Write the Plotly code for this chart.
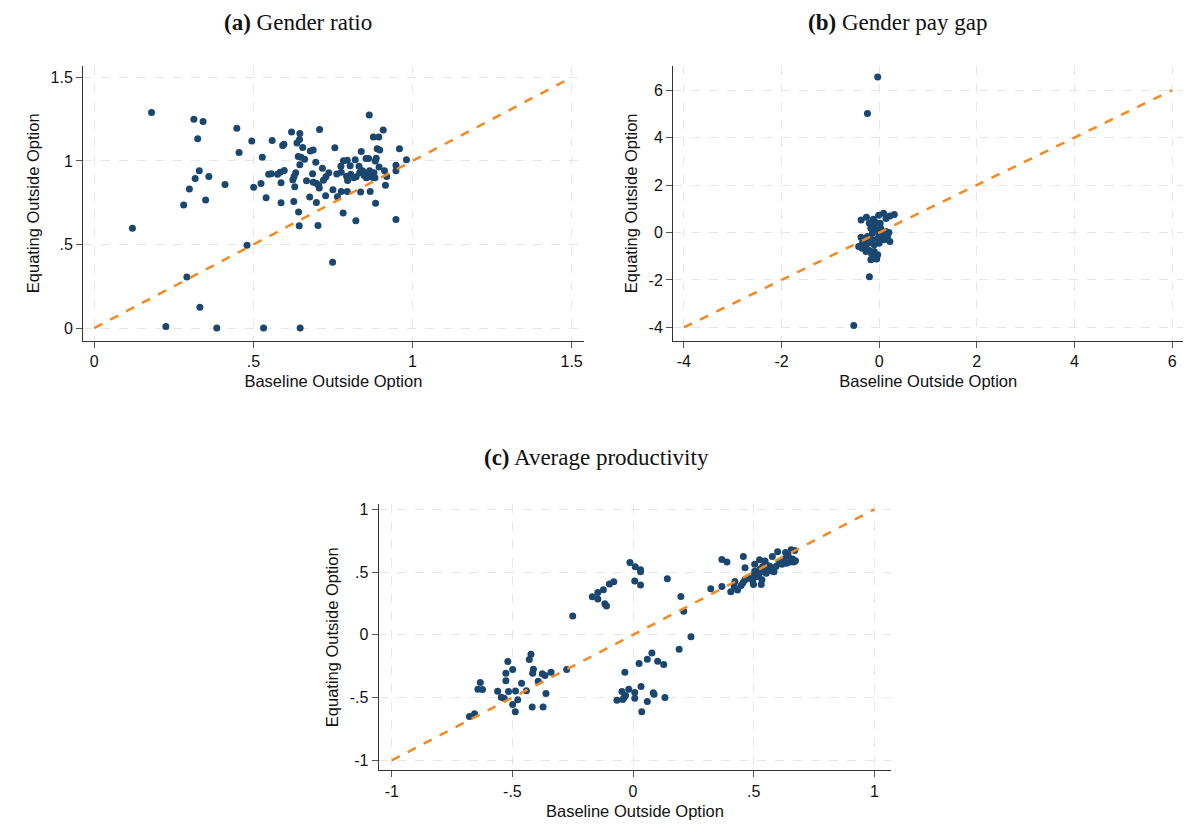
import plotly.graph_objects as go

NAVY = "#1a476f"
ORANGE = "#f5891e"
GRID = "#e6e6e6"

# (a) Gender ratio
ratio_x = [0.18, 0.313, 0.342, 0.325, 0.448, 0.455, 0.495, 0.559, 0.592, 0.596, 0.62, 0.646,
           0.645, 0.637, 0.655, 0.708, 0.679, 0.688, 0.641, 0.65, 0.661, 0.528, 0.756, 0.864,
           0.908, 0.877, 0.894, 0.889, 0.897, 0.959, 0.981, 0.839, 0.886, 0.883, 0.82, 0.795,
           0.783, 0.854, 0.862, 0.696, 0.646, 0.717, 0.775, 0.804, 0.895, 0.948, 0.912, 0.948,
           0.919, 0.915, 0.762, 0.776, 0.737, 0.728, 0.72, 0.686, 0.597, 0.584, 0.576, 0.556,
           0.548, 0.633, 0.628, 0.624, 0.587, 0.63, 0.667, 0.688, 0.698, 0.705, 0.707, 0.793,
           0.796, 0.806, 0.815, 0.823, 0.832, 0.834, 0.843, 0.848, 0.859, 0.865, 0.871, 0.879,
           0.865, 0.855, 0.882, 0.876, 0.501, 0.524, 0.411, 0.36, 0.33, 0.317, 0.299, 0.281,
           0.35, 0.54, 0.587, 0.627, 0.642, 0.644, 0.677, 0.698, 0.703, 0.727, 0.75, 0.764,
           0.776, 0.795, 0.837, 0.867, 0.884, 0.782, 0.822, 0.948, 0.12, 0.48, 0.749, 0.291,
           0.332, 0.225, 0.385, 0.532, 0.647]
ratio_y = [1.29, 1.25, 1.236, 1.133, 1.196, 1.05, 1.12, 1.123, 1.093, 1.10, 1.174, 1.164,
           1.129, 1.107, 1.081, 1.188, 1.059, 1.065, 1.026, 1.022, 1.01, 1.022, 1.079, 1.275,
           1.186, 1.143, 1.143, 1.073, 1.065, 1.073, 1.008, 1.057, 1.016, 1.0, 1.008, 1.004,
           1.002, 1.014, 1.014, 0.992, 0.978, 0.956, 0.968, 0.972, 0.964, 0.974, 0.941, 0.941,
           0.907, 0.855, 0.922, 0.933, 0.929, 0.905, 0.885, 0.923, 0.943, 0.933, 0.921, 0.923,
           0.921, 0.929, 0.907, 0.887, 0.869, 0.846, 0.881, 0.873, 0.867, 0.855, 0.838, 0.909,
           0.883, 0.92, 0.899, 0.905, 0.968, 0.929, 0.941, 0.913, 0.927, 0.941, 0.909, 0.929,
           0.905, 0.899, 0.899, 0.901, 0.842, 0.865, 0.859, 0.907, 0.941, 0.895, 0.832, 0.737,
           0.766, 0.78, 0.75, 0.758, 0.695, 0.612, 0.784, 0.752, 0.614, 0.792, 0.828, 0.786,
           0.818, 0.818, 0.814, 0.818, 0.747, 0.689, 0.642, 0.65, 0.598, 0.495, 0.394, 0.305,
           0.125, 0.01, 0.0, 0.0, 0.0]

# (b) Gender pay gap
gap_x = [-0.03, -0.24, -0.2, -0.52, -0.37, -0.26, -0.12, -0.01, 0.09, 0.14, 0.22, 0.31,
         -0.1, -0.17, -0.07, 0.03, 0.14, 0.20, 0.17, 0.22, -0.37, -0.34, -0.42, -0.27,
         -0.2, -0.1, -0.03, -0.05, -0.17, -0.14, -0.03, 0.07, -0.24, -0.14, 0.0, -0.2,
         -0.07, 0.02, -0.3, -0.2, -0.1, 0.0, 0.1, -0.27, -0.35, -0.15]
gap_y = [6.55, 5.02, -1.86, -3.92, 0.53, 0.64, 0.56, 0.73, 0.81, 0.59, 0.70, 0.76,
         0.32, 0.18, 0.11, 0.18, 0.04, 0.0, -0.17, -0.38, -0.2, -0.42, -0.59, -0.59,
         -0.76, -0.8, -0.94, -1.12, -1.15, -0.31, -0.24, -0.17, -0.17, -0.03, -0.03, 0.39,
         0.42, 0.39, -0.38, -0.42, -0.52, -0.45, -0.31, -0.8, -0.66, -0.94]

# (c) Average productivity
prod_x = [-0.678, -0.657, -0.633, -0.643, -0.624, -0.561, -0.546, -0.534, -0.527, -0.527,
          -0.519, -0.516, -0.499, -0.499, -0.488, -0.487, -0.478, -0.462, -0.442, -0.430,
          -0.423, -0.418, -0.413, -0.416, -0.393, -0.376, -0.365, -0.373, -0.361, -0.340,
          -0.275, -0.250, -0.169, -0.146, -0.146, -0.123, -0.117, -0.110, -0.098, -0.080,
          -0.013, 0.009, 0.031, 0.031, 0.007, 0.031, 0.142, 0.198, 0.210, 0.240, 0.191,
          0.078, 0.059, 0.102, 0.127, 0.025, -0.034, -0.067, -0.046, -0.043, -0.037, -0.031,
          -0.018, 0.007, 0.007, 0.033, 0.036, 0.059, 0.084, 0.087, 0.132,
          0.322, 0.368, 0.368, 0.389, 0.405, 0.422, 0.419, 0.433, 0.448, 0.456, 0.464, 0.473,
          0.457, 0.464, 0.484, 0.493, 0.499, 0.504, 0.504, 0.510, 0.518, 0.524, 0.525, 0.531,
          0.534, 0.537, 0.547, 0.555, 0.561, 0.570, 0.577, 0.581, 0.592, 0.599, 0.605, 0.614,
          0.626, 0.632, 0.643, 0.655, 0.661, 0.666, 0.670, 0.673, 0.651, 0.636, 0.617, 0.584,
          0.567, 0.552, 0.534, 0.521, 0.496]
prod_y = [-0.650, -0.629, -0.380, -0.433, -0.435, -0.449, -0.497, -0.505, -0.367, -0.306,
          -0.213, -0.452, -0.277, -0.555, -0.613, -0.447, -0.518, -0.385, -0.446, -0.197,
          -0.155, -0.576, -0.274, -0.306, -0.370, -0.311, -0.325, -0.576, -0.468, -0.298,
          -0.277, 0.150, 0.303, 0.338, 0.285, 0.359, 0.248, 0.229, 0.404, 0.423,
          0.576, 0.542, 0.518, 0.502, 0.428, 0.396, 0.446, 0.306, 0.187, -0.015, -0.115,
          -0.144, -0.195, -0.211, -0.237, -0.229, -0.298, -0.521, -0.452, -0.515, -0.499, -0.483,
          -0.433, -0.460, -0.505, -0.412, -0.613, -0.531, -0.462, -0.473, -0.499,
          0.367, 0.600, 0.385, 0.581, 0.343, 0.425, 0.385, 0.356, 0.393, 0.417, 0.438, 0.449,
          0.624, 0.534, 0.460, 0.465, 0.401, 0.507, 0.563, 0.465, 0.491, 0.597, 0.523, 0.401,
          0.438, 0.544, 0.587, 0.523, 0.550, 0.510, 0.624, 0.523, 0.544, 0.661, 0.576, 0.581,
          0.603, 0.656, 0.629, 0.677, 0.603, 0.581, 0.672, 0.589, 0.581, 0.571, 0.563, 0.502,
          0.544, 0.491, 0.502, 0.465, 0.430]

diag_a = [0, 1.5]
diag_b = [-4, 6]
diag_c = [-1, 1]

ticks_a = [0, 0.5, 1, 1.5]
labels_a = ["0", ".5", "1", "1.5"]
ticks_b = [-4, -2, 0, 2, 4, 6]
labels_b = ["-4", "-2", "0", "2", "4", "6"]
ticks_c = [-1, -0.5, 0, 0.5, 1]
labels_c = ["-1", "-.5", "0", ".5", "1"]

fig = go.Figure()

panels = [
    ("", ratio_x, ratio_y, diag_a),
    ("2", gap_x, gap_y, diag_b),
    ("3", prod_x, prod_y, diag_c),
]
for suffix, xs, ys, diag in panels:
    fig.add_trace(go.Scatter(x=xs, y=ys, mode="markers", xaxis="x" + suffix, yaxis="y" + suffix,
                             marker=dict(color=NAVY, size=7), showlegend=False))
    fig.add_trace(go.Scatter(x=diag, y=diag, mode="lines", xaxis="x" + suffix, yaxis="y" + suffix,
                             line=dict(color=ORANGE, width=2.5, dash="dash"), showlegend=False))


def axis(domain, rng, tv, tt, title, anchor):
    return dict(domain=domain, range=rng, tickvals=tv, ticktext=tt, anchor=anchor,
                showgrid=True, gridcolor=GRID, griddash="dash", gridwidth=1,
                zeroline=False, showline=True, linecolor="#333333", linewidth=1.2,
                ticks="outside", ticklen=6, tickcolor="#555555",
                tickfont=dict(family="Liberation Sans, Arial", size=16, color="#111"),
                title=dict(text=title, font=dict(family="Liberation Sans, Arial", size=16.5, color="#111"),
                           standoff=6))


DX = -0.006
DY = 0.012
fig.update_layout(
    width=1192, height=832, margin=dict(l=0, r=0, t=0, b=0),
    plot_bgcolor="white", paper_bgcolor="white",
    xaxis=axis([0.069 + DX, 0.489 + DX], [-0.035, 1.538], ticks_a, labels_a, "Baseline Outside Option", "y"),
    yaxis=axis([0.590 + DY, 0.922 + DY], [-0.077, 1.57], ticks_a, labels_a, "Equating Outside Option", "x"),
    xaxis2=axis([0.564 + DX, 0.992 + DX], [-4.22, 6.23], ticks_b, labels_b, "Baseline Outside Option", "y2"),
    yaxis2=axis([0.590 + DY, 0.922 + DY], [-4.57, 7.03], ticks_b, labels_b, "Equating Outside Option", "x2"),
    xaxis3=axis([0.317 + DX, 0.747 + DX], [-1.054, 1.07], ticks_c, labels_c, "Baseline Outside Option", "y3"),
    yaxis3=axis([0.072 + DY, 0.393 + DY], [-1.08, 1.04], ticks_c, labels_c, "Equating Outside Option", "x3"),
)

titles = [("<b>(a)</b> Gender ratio", 0.249 + DX, 0.986),
          ("<b>(b)</b> Gender pay gap", 0.752 + DX, 0.986),
          ("<b>(c)</b> Average productivity", 0.5 + DX, 0.461)]
for text, x, y in titles:
    fig.add_annotation(text=text, x=x, y=y, xref="paper", yref="paper", showarrow=False,
                       xanchor="center", yanchor="middle",
                       font=dict(family="Liberation Serif", size=23, color="#111"))

fig.write_html("out.html")
